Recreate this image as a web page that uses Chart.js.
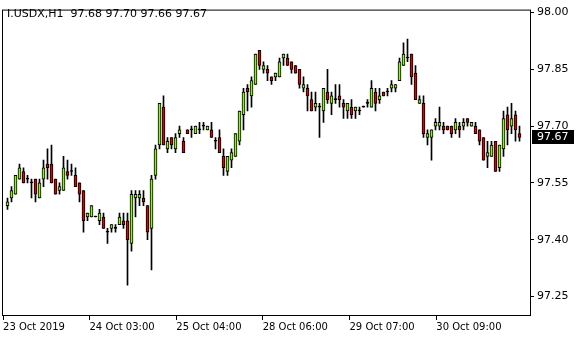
<!DOCTYPE html>
<html>
<head>
<meta charset="utf-8">
<script src="https://cdn.jsdelivr.net/npm/chart.js@4.4.0/dist/chart.umd.min.js"></script>
<style>
  html, body { margin: 0; padding: 0; background: #fff; }
  canvas { display: block; }
</style>
</head>
<body>
<canvas id="chart" width="580" height="340"></canvas>
<script>
const symbol = 'I.USDX,H1';

// hourly bars, oldest first
const openV = [97.49, 97.51, 97.52, 97.56, 97.58, 97.56, 97.55, 97.56, 97.51, 97.56,
  97.60, 97.60, 97.56, 97.53, 97.53, 97.58, 97.58, 97.57, 97.55, 97.53,
  97.46, 97.46, 97.46, 97.45, 97.46, 97.42, 97.43, 97.43, 97.44, 97.45,
  97.45, 97.39, 97.51, 97.51, 97.51, 97.49, 97.43, 97.57, 97.65, 97.75,
  97.64, 97.67, 97.64, 97.68, 97.66, 97.69, 97.69, 97.68, 97.69, 97.70,
  97.69, 97.69, 97.66, 97.67, 97.62, 97.58, 97.61, 97.62, 97.66, 97.73,
  97.80, 97.78, 97.81, 97.90, 97.85, 97.85, 97.83, 97.83, 97.83, 97.88,
  97.88, 97.87, 97.86, 97.85, 97.80, 97.80, 97.77, 97.75, 97.75, 97.74,
  97.79, 97.76, 97.77, 97.78, 97.76, 97.74, 97.75, 97.74, 97.74, 97.75,
  97.76, 97.75, 97.79, 97.77, 97.79, 97.79, 97.80, 97.80, 97.82, 97.86,
  97.88, 97.89, 97.84, 97.76, 97.76, 97.67, 97.67, 97.70, 97.70, 97.70,
  97.70, 97.70, 97.69, 97.70, 97.70, 97.72, 97.70, 97.70, 97.69, 97.67,
  97.62, 97.62, 97.66, 97.59, 97.64, 97.73, 97.70, 97.73, 97.68];
const highV = [97.51, 97.54, 97.57, 97.60, 97.59, 97.57, 97.56, 97.56, 97.56, 97.61,
  97.64, 97.65, 97.56, 97.55, 97.62, 97.61, 97.60, 97.59, 97.55, 97.53,
  97.47, 97.49, 97.46, 97.48, 97.47, 97.43, 97.44, 97.44, 97.47, 97.47,
  97.47, 97.53, 97.53, 97.53, 97.53, 97.49, 97.57, 97.65, 97.76, 97.78,
  97.67, 97.67, 97.68, 97.70, 97.67, 97.69, 97.70, 97.70, 97.71, 97.71,
  97.70, 97.71, 97.67, 97.69, 97.64, 97.62, 97.64, 97.68, 97.74, 97.80,
  97.81, 97.83, 97.89, 97.90, 97.87, 97.86, 97.83, 97.84, 97.88, 97.89,
  97.89, 97.87, 97.86, 97.85, 97.83, 97.81, 97.79, 97.79, 97.76, 97.80,
  97.85, 97.79, 97.81, 97.81, 97.77, 97.76, 97.77, 97.75, 97.75, 97.75,
  97.77, 97.82, 97.80, 97.80, 97.79, 97.80, 97.82, 97.81, 97.88, 97.92,
  97.93, 97.89, 97.86, 97.78, 97.78, 97.69, 97.69, 97.72, 97.75, 97.71,
  97.70, 97.70, 97.72, 97.71, 97.72, 97.72, 97.71, 97.71, 97.69, 97.67,
  97.66, 97.66, 97.66, 97.65, 97.74, 97.75, 97.76, 97.74, 97.70];
const lowV = [97.48, 97.50, 97.52, 97.56, 97.55, 97.55, 97.51, 97.50, 97.51, 97.54,
  97.56, 97.55, 97.52, 97.52, 97.53, 97.56, 97.57, 97.54, 97.50, 97.42,
  97.45, 97.46, 97.46, 97.44, 97.43, 97.39, 97.42, 97.42, 97.44, 97.43,
  97.28, 97.37, 97.46, 97.49, 97.49, 97.40, 97.32, 97.56, 97.64, 97.65,
  97.63, 97.64, 97.63, 97.67, 97.63, 97.68, 97.67, 97.68, 97.68, 97.69,
  97.69, 97.67, 97.64, 97.63, 97.57, 97.57, 97.59, 97.62, 97.65, 97.69,
  97.74, 97.75, 97.81, 97.85, 97.84, 97.82, 97.81, 97.82, 97.83, 97.86,
  97.86, 97.84, 97.84, 97.80, 97.79, 97.74, 97.74, 97.74, 97.67, 97.71,
  97.76, 97.73, 97.76, 97.75, 97.72, 97.72, 97.72, 97.72, 97.73, 97.75,
  97.75, 97.75, 97.74, 97.76, 97.78, 97.78, 97.79, 97.79, 97.82, 97.86,
  97.87, 97.81, 97.77, 97.76, 97.67, 97.65, 97.61, 97.69, 97.69, 97.68,
  97.69, 97.67, 97.68, 97.67, 97.69, 97.70, 97.70, 97.68, 97.65, 97.61,
  97.59, 97.62, 97.58, 97.58, 97.62, 97.65, 97.68, 97.66, 97.66];
const closeV = [97.50, 97.53, 97.57, 97.59, 97.55, 97.56, 97.55, 97.52, 97.55, 97.59,
  97.59, 97.55, 97.52, 97.54, 97.59, 97.57, 97.58, 97.54, 97.52, 97.45,
  97.47, 97.49, 97.46, 97.47, 97.43, 97.42, 97.44, 97.43, 97.46, 97.44,
  97.40, 97.52, 97.52, 97.52, 97.50, 97.42, 97.56, 97.64, 97.76, 97.65,
  97.66, 97.65, 97.67, 97.69, 97.63, 97.68, 97.69, 97.70, 97.69, 97.70,
  97.70, 97.67, 97.66, 97.63, 97.59, 97.62, 97.63, 97.68, 97.74, 97.79,
  97.79, 97.82, 97.89, 97.86, 97.86, 97.84, 97.82, 97.84, 97.87, 97.89,
  97.86, 97.85, 97.84, 97.81, 97.81, 97.78, 97.74, 97.76, 97.75, 97.80,
  97.77, 97.78, 97.77, 97.77, 97.75, 97.76, 97.73, 97.75, 97.74, 97.75,
  97.76, 97.80, 97.76, 97.78, 97.78, 97.79, 97.81, 97.81, 97.87, 97.89,
  97.88, 97.83, 97.77, 97.77, 97.68, 97.68, 97.69, 97.71, 97.71, 97.69,
  97.69, 97.68, 97.71, 97.69, 97.71, 97.71, 97.71, 97.68, 97.66, 97.61,
  97.63, 97.65, 97.58, 97.65, 97.72, 97.69, 97.72, 97.69, 97.67];

const yTicks = [97.25, 97.40, 97.55, 97.70, 97.85, 98.00];
const xTickPos = [-1.1, 20.5, 42.2, 63.8, 85.5, 107.2];
const xTickLabels = ['23 Oct 2019', '24 Oct 03:00', '25 Oct 04:00', '28 Oct 06:00', '29 Oct 07:00', '30 Oct 09:00'];

const bullColor = '#80ff00';
const bearColor = '#e00000';

const last = openV.length - 1;
const titleText = symbol + '  ' + [openV[last], highV[last], lowV[last], closeV[last]].map(v => v.toFixed(2)).join(' ');

const bodies = openV.map((o, i) => ({ x: i, y: [Math.min(o, closeV[i]), Math.max(o, closeV[i])] }));
const wicks = lowV.map((l, i) => ({ x: i, y: [l, highV[i]] }));
const bodyColors = openV.map((o, i) => closeV[i] > o ? bullColor : (closeV[i] < o ? bearColor : '#000'));

// frame around the plot, title and last price tag
const extras = {
    id: 'extras',
    afterDraw(chart) {
        const ctx = chart.ctx;
        const a = chart.chartArea;
        ctx.save();
        ctx.strokeStyle = '#000';
        ctx.lineWidth = 1;
        ctx.strokeRect(a.left - 0.5, a.top + 0.5, a.right - a.left + 1, a.bottom - a.top - 1);

        ctx.fillStyle = '#000';
        ctx.font = '11px "DejaVu Sans"';
        ctx.textBaseline = 'alphabetic';
        ctx.textAlign = 'left';
        ctx.fillText(titleText, 7, 17);

        const y = Math.round(chart.scales.y.getPixelForValue(closeV[last]));
        ctx.fillStyle = '#000';
        ctx.fillRect(a.right + 2, y - 7, 42, 14);
        ctx.fillStyle = '#fff';
        ctx.textBaseline = 'middle';
        ctx.fillText(closeV[last].toFixed(2), a.right + 7, y);
        ctx.restore();
    }
};

new Chart(document.getElementById('chart'), {
    type: 'bar',
    data: {
        datasets: [{
            data: bodies,
            backgroundColor: bodyColors,
            borderColor: '#000',
            borderWidth: 1,
            borderSkipped: false,
            barThickness: 3,
            minBarLength: 1,
            grouped: false
        }, {
            data: wicks,
            backgroundColor: '#000',
            borderWidth: 0,
            barThickness: 1,
            minBarLength: 1,
            grouped: false
        }]
    },
    options: {
        responsive: false,
        animation: false,
        layout: { padding: { left: 3, top: 2, right: 0, bottom: 0 } },
        plugins: { legend: { display: false }, tooltip: { enabled: false }, title: { display: false } },
        scales: {
            x: {
                type: 'linear',
                min: -1.125,
                max: 130.625,
                offset: false,
                border: { display: false },
                grid: { display: true, drawOnChartArea: false, drawTicks: true, tickLength: 4, color: '#000', offset: false },
                afterBuildTicks: s => { s.ticks = xTickPos.map(v => ({ value: v })); },
                afterFit: s => { s.height = 24; },
                ticks: {
                    autoSkip: false,
                    maxRotation: 0,
                    align: 'start',
                    padding: 1,
                    color: '#000',
                    font: { family: 'DejaVu Sans', size: 10 },
                    callback: (v, i) => xTickLabels[i]
                }
            },
            y: {
                type: 'linear',
                position: 'right',
                min: 97.19845,
                max: 98.00773,
                border: { display: false },
                grid: { display: true, drawOnChartArea: false, drawTicks: true, tickLength: 4, color: '#000' },
                afterBuildTicks: s => { s.ticks = yTicks.map(v => ({ value: v })); },
                afterFit: s => { s.width = 50; },
                ticks: {
                    padding: 3,
                    color: '#000',
                    font: { family: 'DejaVu Sans', size: 11 },
                    callback: v => Number(v).toFixed(2)
                }
            }
        }
    },
    plugins: [extras]
});
</script>
</body>
</html>
